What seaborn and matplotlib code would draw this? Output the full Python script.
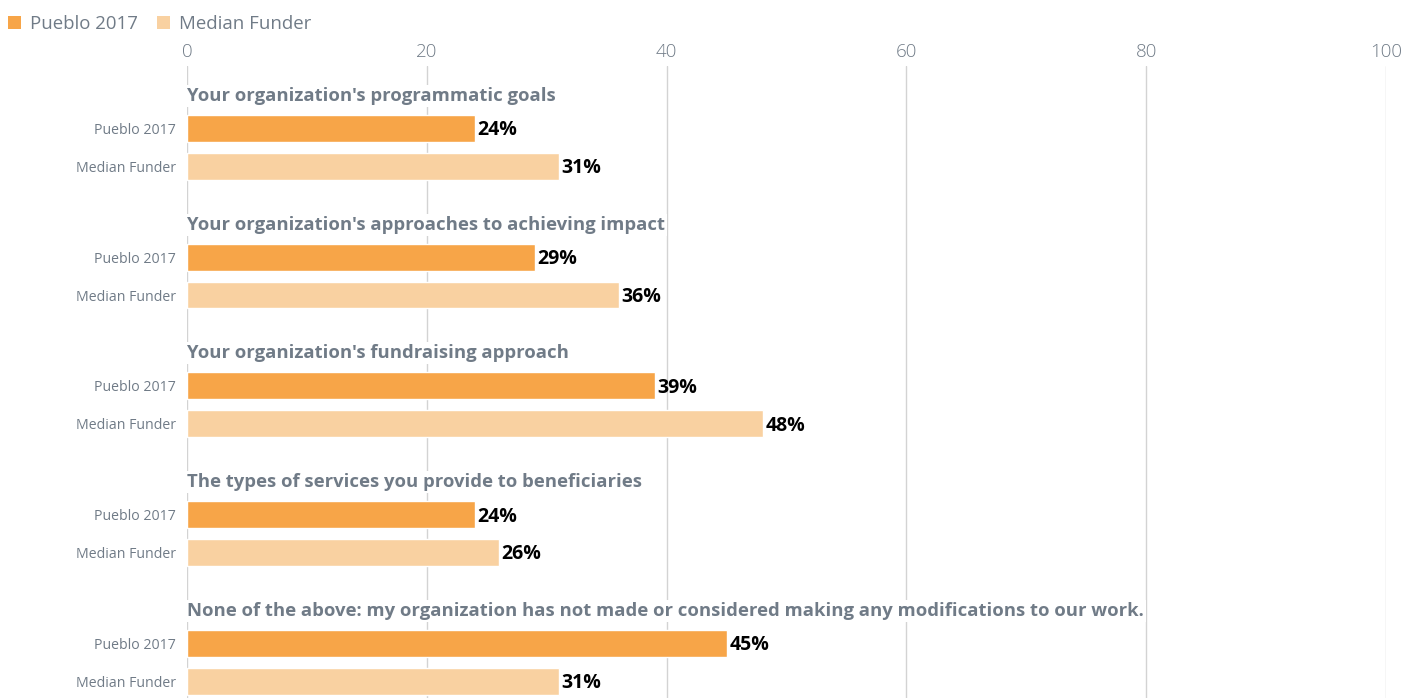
import matplotlib
matplotlib.use("Agg")
import matplotlib.pyplot as plt
import seaborn as sns
import pandas as pd
from matplotlib.patches import Patch

# Survey questions (one group per question)
questions = [
    "Your organization's programmatic goals",
    "Your organization's approaches to achieving impact",
    "Your organization's fundraising approach",
    "The types of services you provide to beneficiaries",
    "None of the above: my organization has not made or considered making any modifications to our work.",
]
series = ["Pueblo 2017", "Median Funder"]
pueblo_2017 = [24, 29, 39, 24, 45]
median_funder = [31, 36, 48, 26, 31]
x_ticks = [0, 20, 40, 60, 80, 100]

colors = {"Pueblo 2017": "#F7A548", "Median Funder": "#F9D1A1"}
gray = "#707B87"

rows = []
for q, p, m in zip(questions, pueblo_2017, median_funder):
    rows.append({"question": q, "series": "Pueblo 2017", "value": p})
    rows.append({"question": q, "series": "Median Funder", "value": m})
df = pd.DataFrame(rows)

sns.set_theme(style="white")
plt.rcParams["font.family"] = ["Open Sans", "DejaVu Sans"]

fig = plt.figure(figsize=(14.04, 6.98), dpi=100)
ax = fig.add_axes([187 / 1404, 0, (1386 - 187) / 1404, (698 - 66) / 698])

sns.barplot(
    data=df, y="question", x="value", hue="series", order=questions,
    hue_order=series, palette=colors, orient="h", width=0.59, gap=0.29,
    dodge=True, legend=False, ax=ax, saturation=1, errorbar=None,
)

ax.set_xlim(0, 100)
ax.set_ylim(len(questions) - 1 + 0.279, -0.632)
ax.set_xticks(x_ticks)
ax.xaxis.tick_top()
ax.tick_params(axis="x", length=0, pad=3.5, labelsize=13.5, labelcolor=gray)
for lbl in ax.get_xticklabels():
    lbl.set_fontweight("light")
ax.grid(axis="x", color="#D3D3D3", linewidth=1)
ax.set_axisbelow(True)
for s in ax.spines.values():
    s.set_visible(False)
ax.set_xlabel("")
ax.set_ylabel("")

# Per-bar series labels on the y axis and value labels at the bar ends
tick_pos, tick_lab = [], []
for container, name in zip(ax.containers, series):
    for bar in container:
        yc = bar.get_y() + bar.get_height() / 2
        tick_pos.append(yc)
        tick_lab.append(name)
    texts = ax.bar_label(container, labels=[f"{v:.0f}%" for v in container.datavalues],
                         padding=2, fontsize=14, fontweight="bold", color="black")
    for t in texts:
        t.set_va("center")
        t.xyann = (t.xyann[0], -1.5)
ax.set_yticks(tick_pos)
ax.set_yticklabels(tick_lab)
ax.tick_params(axis="y", length=0, pad=8, labelsize=10.2, labelcolor=gray)

# Question headings above each group
for i, q in enumerate(questions):
    ax.text(0, i - 0.40, q, ha="left", va="center", fontsize=13.3,
            fontweight="bold", color=gray,
            bbox=dict(facecolor="white", edgecolor="none", pad=1.5))

# Legend across the top left
handles = [Patch(facecolor=colors[s], edgecolor="none", label=s) for s in series]
fig.legend(handles=handles, loc="upper left", bbox_to_anchor=(0.0, 0.99),
           ncol=2, frameon=False, fontsize=13.4, labelcolor=gray,
           handlelength=0.7, handleheight=0.7, handletextpad=0.45,
           columnspacing=1.05, borderaxespad=0.0, borderpad=0.45)

fig.savefig("out.png", dpi=100)
